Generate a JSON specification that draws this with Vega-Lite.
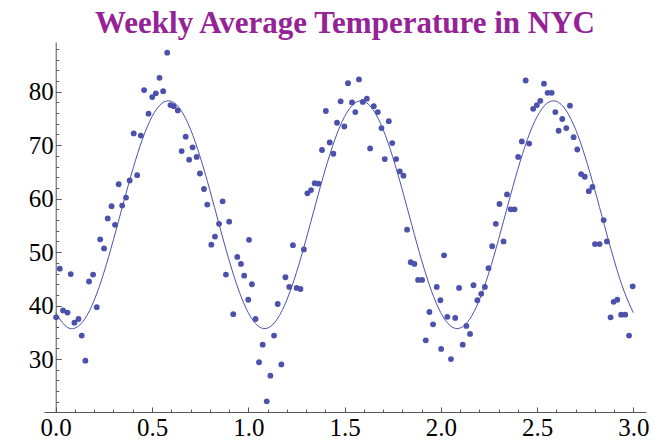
{
  "$schema": "https://vega.github.io/schema/vega-lite/v6.json",
  "autosize": {"type": "none"},
  "padding": {"left": 44, "top": 42, "right": 8, "bottom": 28},
  "width": 602,
  "height": 370,
  "title": {"text": "Weekly Average Temperature in NYC", "font": "'Liberation Serif', 'Times New Roman', 'DejaVu Serif', serif", "fontSize": 31, "fontWeight": "bold", "color": "#952296", "anchor": "middle", "offset": 2},
  "config": {
    "view": {"stroke": null},
    "axis": {"grid": false, "title": null, "domainColor": "#555555", "tickColor": "#555555", "labelFont": "'Liberation Serif', 'Times New Roman', 'DejaVu Serif', serif", "labelFontSize": 25, "labelColor": "#000000", "domainWidth": 1, "tickWidth": 1}
  },
  "resolve": {"axis": {"x": "independent", "y": "independent"}},
  "layer": [
    {
      "data": {"values": [
        {"x":0.002,"temp":37.8},{"x":0.021,"temp":46.9},{"x":0.038,"temp":39.1},{"x":0.061,"temp":38.7},{"x":0.078,"temp":45.9},{"x":0.097,"temp":36.8},{"x":0.118,"temp":37.5},{"x":0.135,"temp":34.4},{"x":0.154,"temp":29.7},{"x":0.173,"temp":44.5},{"x":0.194,"temp":45.8},{"x":0.213,"temp":39.7},{"x":0.231,"temp":52.4},{"x":0.251,"temp":50.7},{"x":0.270,"temp":56.3},{"x":0.290,"temp":58.6},{"x":0.308,"temp":55.1},{"x":0.327,"temp":62.7},{"x":0.345,"temp":58.7},{"x":0.365,"temp":60.2},{"x":0.384,"temp":63.4},{"x":0.405,"temp":72.2},{"x":0.423,"temp":64.4},{"x":0.442,"temp":71.8},{"x":0.459,"temp":80.3},{"x":0.482,"temp":75.9},{"x":0.501,"temp":79.0},{"x":0.520,"temp":79.7},{"x":0.539,"temp":82.6},{"x":0.558,"temp":80.1},{"x":0.579,"temp":87.3},{"x":0.596,"temp":77.5},{"x":0.613,"temp":77.3},{"x":0.634,"temp":76.5},{"x":0.654,"temp":68.9},{"x":0.675,"temp":71.6},{"x":0.693,"temp":67.3},{"x":0.711,"temp":69.6},{"x":0.732,"temp":67.8},{"x":0.749,"temp":64.7},{"x":0.770,"temp":61.8},{"x":0.787,"temp":58.9},{"x":0.808,"temp":51.4},{"x":0.827,"temp":52.9},{"x":0.848,"temp":55.3},{"x":0.867,"temp":59.5},{"x":0.884,"temp":45.8},{"x":0.901,"temp":55.7},{"x":0.922,"temp":38.4},{"x":0.943,"temp":49.1},{"x":0.962,"temp":47.8},{"x":0.979,"temp":45.6},{"x":1.000,"temp":41.1},{"x":1.004,"temp":52.3},{"x":1.019,"temp":44.0},{"x":1.038,"temp":37.5},{"x":1.056,"temp":29.4},{"x":1.075,"temp":32.7},{"x":1.096,"temp":22.1},{"x":1.115,"temp":26.9},{"x":1.134,"temp":34.4},{"x":1.153,"temp":40.3},{"x":1.172,"temp":29.0},{"x":1.193,"temp":45.3},{"x":1.213,"temp":43.5},{"x":1.232,"temp":51.3},{"x":1.251,"temp":43.3},{"x":1.271,"temp":43.1},{"x":1.289,"temp":50.5},{"x":1.307,"temp":61.0},{"x":1.326,"temp":61.6},{"x":1.345,"temp":62.9},{"x":1.364,"temp":62.8},{"x":1.383,"temp":69.1},{"x":1.403,"temp":76.4},{"x":1.423,"temp":70.5},{"x":1.442,"temp":68.4},{"x":1.461,"temp":74.2},{"x":1.480,"temp":78.2},{"x":1.499,"temp":73.5},{"x":1.518,"temp":81.6},{"x":1.539,"temp":78.0},{"x":1.556,"temp":76.2},{"x":1.575,"temp":82.3},{"x":1.595,"temp":78.1},{"x":1.616,"temp":78.7},{"x":1.633,"temp":69.4},{"x":1.652,"temp":77.3},{"x":1.673,"temp":76.2},{"x":1.692,"temp":73.2},{"x":1.709,"temp":67.4},{"x":1.730,"temp":74.5},{"x":1.748,"temp":70.4},{"x":1.768,"temp":67.4},{"x":1.787,"temp":65.1},{"x":1.806,"temp":64.3},{"x":1.825,"temp":54.2},{"x":1.844,"temp":48.1},{"x":1.863,"temp":47.8},{"x":1.882,"temp":44.8},{"x":1.903,"temp":44.8},{"x":1.922,"temp":33.5},{"x":1.941,"temp":38.8},{"x":1.960,"temp":36.5},{"x":1.979,"temp":43.5},{"x":1.998,"temp":41.0},{"x":2.002,"temp":31.9},{"x":2.017,"temp":49.4},{"x":2.034,"temp":37.9},{"x":2.053,"temp":30.0},{"x":2.075,"temp":37.7},{"x":2.095,"temp":43.3},{"x":2.114,"temp":32.7},{"x":2.133,"temp":36.2},{"x":2.152,"temp":34.7},{"x":2.170,"temp":43.8},{"x":2.190,"temp":41.0},{"x":2.210,"temp":42.2},{"x":2.229,"temp":43.5},{"x":2.248,"temp":47.0},{"x":2.267,"temp":51.1},{"x":2.286,"temp":55.3},{"x":2.305,"temp":59.0},{"x":2.326,"temp":52.0},{"x":2.344,"temp":60.8},{"x":2.363,"temp":58.0},{"x":2.383,"temp":58.0},{"x":2.402,"temp":67.8},{"x":2.421,"temp":70.7},{"x":2.441,"temp":82.1},{"x":2.459,"temp":70.3},{"x":2.480,"temp":76.8},{"x":2.499,"temp":77.5},{"x":2.517,"temp":78.3},{"x":2.536,"temp":81.5},{"x":2.555,"temp":79.8},{"x":2.576,"temp":79.8},{"x":2.595,"temp":76.2},{"x":2.612,"temp":72.7},{"x":2.631,"temp":74.9},{"x":2.652,"temp":73.2},{"x":2.671,"temp":77.4},{"x":2.690,"temp":71.5},{"x":2.709,"temp":69.2},{"x":2.729,"temp":64.6},{"x":2.748,"temp":64.1},{"x":2.769,"temp":61.4},{"x":2.788,"temp":62.2},{"x":2.801,"temp":51.5},{"x":2.825,"temp":51.5},{"x":2.846,"temp":56.0},{"x":2.863,"temp":52.0},{"x":2.882,"temp":37.8},{"x":2.898,"temp":40.7},{"x":2.917,"temp":41.1},{"x":2.937,"temp":38.3},{"x":2.958,"temp":38.3},{"x":2.978,"temp":34.4},{"x":2.997,"temp":43.6}
      ]},
      "mark": {"type": "circle", "size": 34, "color": "#4C52AC", "opacity": 1},
      "encoding": {
        "x": {"field": "x", "type": "quantitative", "scale": {"domain": [-0.061, 3.066], "nice": false, "zero": false},
              "axis": {"orient": "bottom", "values": [0, 0.5, 1, 1.5, 2, 2.5, 3], "format": ".1f", "tickSize": -5, "labelPadding": 8}},
        "y": {"field": "temp", "type": "quantitative", "scale": {"domain": [20.1, 89.3], "nice": false, "zero": false},
              "axis": {"orient": "left", "values": [30, 40, 50, 60, 70, 80], "tickSize": -5.5, "offset": -11.7, "labelPadding": 8}}
      }
    },
    {
      "data": {"values": [
        {"x":0.00,"temp":38.67},{"x":0.05,"temp":36.21},{"x":0.10,"temp":35.79},{"x":0.15,"temp":37.45},{"x":0.20,"temp":41.02},{"x":0.25,"temp":46.16},{"x":0.30,"temp":52.35},{"x":0.35,"temp":59.00},{"x":0.40,"temp":65.46},{"x":0.45,"temp":71.09},{"x":0.50,"temp":75.33},{"x":0.55,"temp":77.79},{"x":0.60,"temp":78.21},{"x":0.65,"temp":76.55},{"x":0.70,"temp":72.98},{"x":0.75,"temp":67.84},{"x":0.80,"temp":61.65},{"x":0.85,"temp":55.00},{"x":0.90,"temp":48.54},{"x":0.95,"temp":42.91},
        {"x":1.00,"temp":38.67},{"x":1.05,"temp":36.21},{"x":1.10,"temp":35.79},{"x":1.15,"temp":37.45},{"x":1.20,"temp":41.02},{"x":1.25,"temp":46.16},{"x":1.30,"temp":52.35},{"x":1.35,"temp":59.00},{"x":1.40,"temp":65.46},{"x":1.45,"temp":71.09},{"x":1.50,"temp":75.33},{"x":1.55,"temp":77.79},{"x":1.60,"temp":78.21},{"x":1.65,"temp":76.55},{"x":1.70,"temp":72.98},{"x":1.75,"temp":67.84},{"x":1.80,"temp":61.65},{"x":1.85,"temp":55.00},{"x":1.90,"temp":48.54},{"x":1.95,"temp":42.91},
        {"x":2.00,"temp":38.67},{"x":2.05,"temp":36.21},{"x":2.10,"temp":35.79},{"x":2.15,"temp":37.45},{"x":2.20,"temp":41.02},{"x":2.25,"temp":46.16},{"x":2.30,"temp":52.35},{"x":2.35,"temp":59.00},{"x":2.40,"temp":65.46},{"x":2.45,"temp":71.09},{"x":2.50,"temp":75.33},{"x":2.55,"temp":77.79},{"x":2.60,"temp":78.21},{"x":2.65,"temp":76.55},{"x":2.70,"temp":72.98},{"x":2.75,"temp":67.84},{"x":2.80,"temp":61.65},{"x":2.85,"temp":55.00},{"x":2.90,"temp":48.54},{"x":2.95,"temp":42.91},{"x":3.00,"temp":38.67}
      ]},
      "mark": {"type": "line", "color": "#4C52AC", "strokeWidth": 1, "interpolate": "natural"},
      "encoding": {
        "x": {"field": "x", "type": "quantitative",
              "axis": {"orient": "bottom", "values": [0.1,0.2,0.3,0.4,0.6,0.7,0.8,0.9,1.1,1.2,1.3,1.4,1.6,1.7,1.8,1.9,2.1,2.2,2.3,2.4,2.6,2.7,2.8,2.9], "labels": false, "domain": false, "tickSize": -3}},
        "y": {"field": "temp", "type": "quantitative",
              "axis": {"orient": "left", "values": [22,24,26,28,32,34,36,38,42,44,46,48,52,54,56,58,62,64,66,68,72,74,76,78,82,84,86,88], "labels": false, "domain": false, "tickSize": -3, "offset": -11.7}}
      }
    }
  ]
}
